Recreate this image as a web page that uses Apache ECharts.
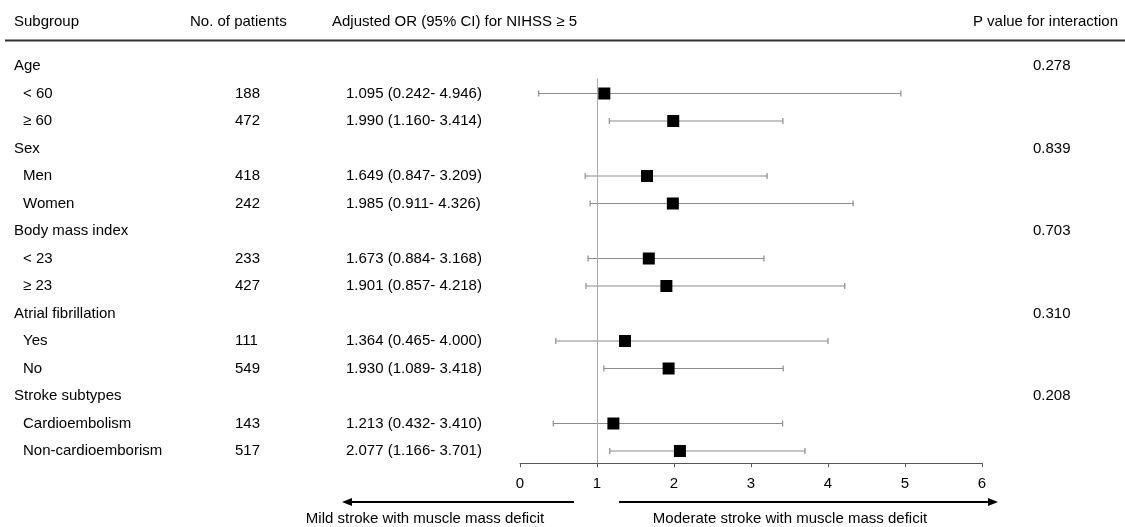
<!DOCTYPE html>
<html>
<head>
<meta charset="utf-8">
<script src="https://cdn.jsdelivr.net/npm/echarts@6/dist/echarts.min.js"></script>
<style>
  html, body { margin: 0; padding: 0; background: #fff; }
  #chart { width: 1125px; height: 527px; }
</style>
</head>
<body>
<div id="chart"></div>
<script>
// subgroup headers and their interaction p values
var groups = ['Age', 'Sex', 'Body mass index', 'Atrial fibrillation', 'Stroke subtypes'];
var groupP = ['0.278', '0.839', '0.703', '0.310', '0.208'];

// subgroup rows (two per group)
var subLabels = ['< 60', '≥ 60', 'Men', 'Women', '< 23', '≥ 23', 'Yes', 'No', 'Cardioembolism', 'Non-cardioemborism'];
var patients = [188, 472, 418, 242, 233, 427, 111, 549, 143, 517];
var orValues = [1.095, 1.990, 1.649, 1.985, 1.673, 1.901, 1.364, 1.930, 1.213, 2.077];
var ciLow = [0.242, 1.160, 0.847, 0.911, 0.884, 0.857, 0.465, 1.089, 0.432, 1.166];
var ciHigh = [4.946, 3.414, 3.209, 4.326, 3.168, 4.218, 4.000, 3.418, 3.410, 3.701];

var headers = ['Subgroup', 'No. of patients', 'Adjusted OR (95% CI) for NIHSS ≥ 5', 'P value for interaction'];
var leftNote = 'Mild stroke with muscle mass deficit';
var rightNote = 'Moderate stroke with muscle mass deficit';
var refValue = 1;

var FONT = '"Liberation Sans", Arial, sans-serif';
var TXT = '#000';

// row index: group g -> 3g, its sub rows -> 3g+1, 3g+2
function subRow(i) { return Math.floor(i / 2) * 3 + 1 + (i % 2); }

var groupText = groups.map(function (g, k) { return { value: [14, k * 3], label: { formatter: g } }; });
var pText = groupP.map(function (p, k) { return { value: [1033, k * 3], label: { formatter: p } }; });
var subText = subLabels.map(function (s, i) { return { value: [23, subRow(i)], label: { formatter: s } }; });
var nText = patients.map(function (n, i) { return { value: [235, subRow(i)], label: { formatter: String(n) } }; });
var orText = orValues.map(function (v, i) {
    return { value: [346, subRow(i)], label: { formatter: v.toFixed(3) + ' (' + ciLow[i].toFixed(3) + '- ' + ciHigh[i].toFixed(3) + ')' } };
});

var ciData = orValues.map(function (v, i) { return [ciLow[i], ciHigh[i], subRow(i)]; });
var pointData = orValues.map(function (v, i) { return [v, subRow(i)]; });

function textSeries(data) {
    return {
        type: 'scatter', xAxisIndex: 1, yAxisIndex: 1, symbolSize: 0, silent: true,
        itemStyle: { opacity: 1 },
        data: data,
        label: { show: true, position: 'right', distance: 0, align: 'left', verticalAlign: 'middle',
                 fontSize: 15, fontFamily: FONT, color: TXT }
    };
}

var chart = echarts.init(document.getElementById('chart'));
var yMin = -1, yMax = 14.44;

chart.setOption({
    animation: false,
    grid: [
        { left: 520, right: 143, top: 38.5, height: 424.6 },
        { left: 0, right: 0, top: 38.5, height: 424.6 }
    ],
    xAxis: [
        { type: 'value', gridIndex: 0, min: 0, max: 6, interval: 1, position: 'bottom',
          axisLine: { show: true, onZero: false, lineStyle: { color: '#555', width: 1 } },
          axisTick: { show: true, length: 4, lineStyle: { color: '#555' } },
          axisLabel: { fontSize: 15, fontFamily: FONT, color: TXT, margin: 13 },
          splitLine: { show: false } },
        { type: 'value', gridIndex: 1, min: 0, max: 1125, show: false }
    ],
    yAxis: [
        { type: 'value', gridIndex: 0, min: yMin, max: yMax, inverse: true, show: false },
        { type: 'value', gridIndex: 1, min: yMin, max: yMax, inverse: true, show: false }
    ],
    graphic: [
        { type: 'text', left: 14, top: 14, style: { text: headers[0], font: '15px ' + FONT, fill: TXT } },
        { type: 'text', left: 190, top: 14, style: { text: headers[1], font: '15px ' + FONT, fill: TXT } },
        { type: 'text', left: 332, top: 14, style: { text: headers[2], font: '15px ' + FONT, fill: TXT } },
        { type: 'text', right: 7, top: 14, style: { text: headers[3], font: '15px ' + FONT, fill: TXT } },
        { type: 'line', shape: { x1: 5, y1: 40.5, x2: 1125, y2: 40.5 }, style: { stroke: '#333', lineWidth: 2 } },
        // direction arrows under the axis
        { type: 'line', shape: { x1: 574, y1: 502, x2: 350, y2: 502 }, style: { stroke: '#000', lineWidth: 2 } },
        { type: 'polygon', shape: { points: [[342, 502], [352, 498], [352, 506]] }, style: { fill: '#000' } },
        { type: 'line', shape: { x1: 619, y1: 502, x2: 990, y2: 502 }, style: { stroke: '#000', lineWidth: 2 } },
        { type: 'polygon', shape: { points: [[998, 502], [988, 498], [988, 506]] }, style: { fill: '#000' } },
        { type: 'text', x: 425, y: 519, style: { text: leftNote, font: '15px ' + FONT, fill: TXT, align: 'center', verticalAlign: 'middle' } },
        { type: 'text', x: 790, y: 519, style: { text: rightNote, font: '15px ' + FONT, fill: TXT, align: 'center', verticalAlign: 'middle' } }
    ],
    series: [
        {
            type: 'custom', xAxisIndex: 0, yAxisIndex: 0, silent: true,
            data: ciData,
            renderItem: function (params, api) {
                var a = api.coord([api.value(0), api.value(2)]);
                var b = api.coord([api.value(1), api.value(2)]);
                var s = { stroke: '#8c8c8c', lineWidth: 1.2 };
                return {
                    type: 'group',
                    children: [
                        { type: 'line', shape: { x1: a[0], y1: a[1], x2: b[0], y2: b[1] }, style: s },
                        { type: 'line', shape: { x1: a[0], y1: a[1] - 3, x2: a[0], y2: a[1] + 3 }, style: s },
                        { type: 'line', shape: { x1: b[0], y1: b[1] - 3, x2: b[0], y2: b[1] + 3 }, style: s }
                    ]
                };
            }
        },
        {
            type: 'scatter', xAxisIndex: 0, yAxisIndex: 0, silent: true,
            symbol: 'rect', symbolSize: 12,
            itemStyle: { color: '#000', opacity: 1 },
            data: pointData,
            markLine: {
                silent: true, symbol: 'none', label: { show: false },
                lineStyle: { color: '#aaa', width: 1, type: 'solid' },
                data: [[{ coord: [refValue, 0.45] }, { coord: [refValue, yMax] }]]
            },
            z: 3
        },
        textSeries(groupText),
        textSeries(pText),
        textSeries(subText),
        textSeries(nText),
        textSeries(orText)
    ]
});
</script>
</body>
</html>
